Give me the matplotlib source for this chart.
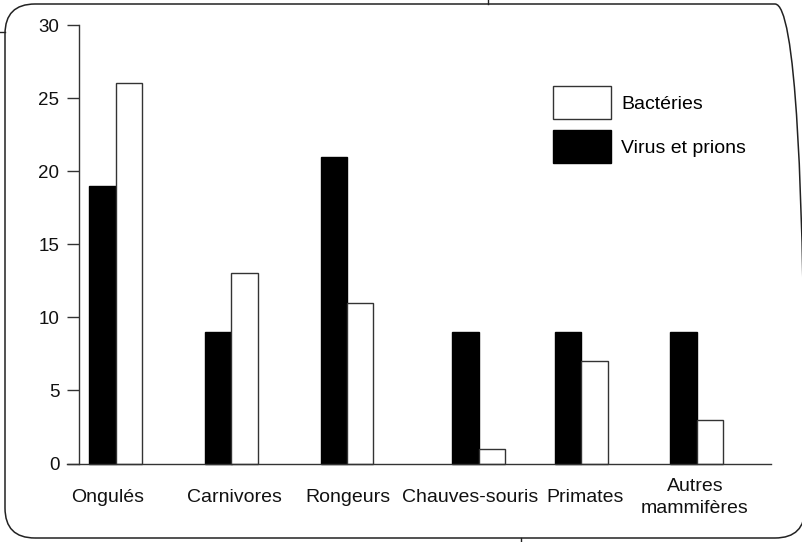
import matplotlib
matplotlib.use("Agg")
import matplotlib.pyplot as plt
from matplotlib.patches import FancyBboxPatch, Patch
from matplotlib.lines import Line2D
from matplotlib.transforms import IdentityTransform, blended_transform_factory, offset_copy

plt.rcParams['font.family'] = ['Liberation Sans', 'DejaVu Sans']

categories = ["Ongulés", "Carnivores", "Rongeurs", "Chauves-souris", "Primates", "Autres\nmammifères"]
virus_prions = [19, 9, 21, 9, 9, 9]
bacteries = [26, 13, 11, 1, 7, 3]
y_ticks = [0, 5, 10, 15, 20, 25, 30]

# layout (horizontal positions in axis units, i.e. pixels from the y-axis)
group_pos = [36.5, 152.5, 268, 400, 502, 618]
label_pos = [28.5, 155, 269, 391, 506, 616]
bar_w = 26.5

W, H, DPI = 802, 542, 100
FS = 14
fig = plt.figure(figsize=(W / DPI, H / DPI), dpi=DPI)
fig.patch.set_facecolor("white")

ax_left, ax_right = 67, 771
ax_top, ax_bottom = 25, 463.5
ax = fig.add_axes([ax_left / W, 1 - ax_bottom / H, (ax_right - ax_left) / W, (ax_bottom - ax_top) / H])
ax.set_xlim(-12, ax_right - ax_left - 12)
ax.set_ylim(0, 30)

edge = "#333333"
for gp, v, b in zip(group_pos, virus_prions, bacteries):
    ax.bar(gp - bar_w / 2, v, width=bar_w, color="black", edgecolor="black", linewidth=1.0, clip_on=False)
    ax.bar(gp + bar_w / 2, b, width=bar_w, color="white", edgecolor=edge, linewidth=1.0, clip_on=False)

for s in ["top", "right"]:
    ax.spines[s].set_visible(False)
ax.spines["left"].set_position(("data", 0))
ax.spines["left"].set_color(edge)
ax.spines["left"].set_linewidth(1.0)
ax.spines["bottom"].set_color(edge)
ax.spines["bottom"].set_linewidth(1.0)

ax.set_yticks(y_ticks)
ax.set_yticklabels([str(t) for t in y_ticks], fontsize=13.5, color="#111111")
ax.tick_params(axis="y", direction="out", length=8.6, width=1.0, color=edge, pad=5.5)
ax.set_xticks([])

trans = offset_copy(ax.transData, fig=fig, x=0, y=-34 * 72 / DPI, units="points")
trans = blended_transform_factory(ax.transData, trans)
for lp, lab in zip(label_pos, categories):
    ax.text(lp, 0, lab, transform=trans, ha="center", va="center", fontsize=FS,
            linespacing=1.35, color="#111111")

# legend
fs_px = FS * DPI / 72
hh = (33 / fs_px - 0.245) / 0.65
handles = [Patch(facecolor="white", edgecolor=edge, linewidth=1.0, label="Bactéries"),
           Patch(facecolor="black", edgecolor="black", linewidth=1.0, label="Virus et prions")]
fig.legend(handles=handles, loc="upper left", bbox_to_anchor=(553 / W, 1 - 86 / H),
           bbox_transform=fig.transFigure, frameon=False, fontsize=FS,
           handlelength=58 / fs_px, handleheight=hh, labelspacing=11 / fs_px,
           handletextpad=10 / fs_px, borderpad=0, borderaxespad=0)

# rounded frame around the figure (pixel coordinates, origin bottom-left)
frame = FancyBboxPatch((5, H - 538), 800, 534, boxstyle="round,pad=0,rounding_size=30",
                       transform=IdentityTransform(), facecolor="none", edgecolor="#222222",
                       linewidth=1.1)
fig.patches.append(frame)

# crop marks
for xs, ys in [((0, 5), (H - 31.5, H - 31.5)), ((488, 488), (H, H - 4)), ((521, 521), (H - 538, 0))]:
    fig.add_artist(Line2D(xs, ys, transform=IdentityTransform(), color="#222222", linewidth=1.0))

fig.savefig("out.png", dpi=DPI)
